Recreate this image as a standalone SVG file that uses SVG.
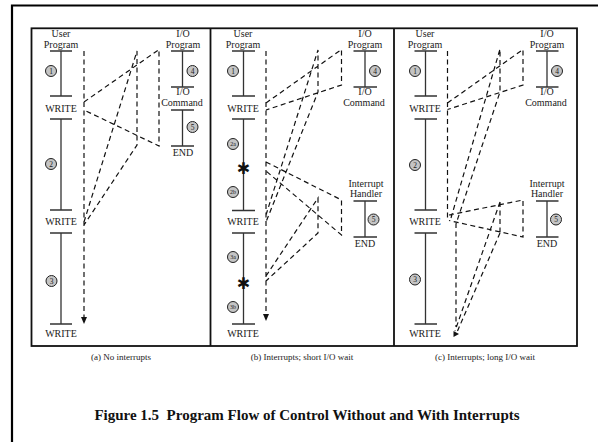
<svg xmlns="http://www.w3.org/2000/svg" width="598" height="442" viewBox="0 0 598 442">
<style>
.frame{fill:none;stroke:#000;stroke-width:2.2}
.box{fill:none;stroke:#111;stroke-width:1.8}
.prog{fill:none;stroke:#333;stroke-width:1.3}
.dash{fill:none;stroke:#111;stroke-width:1.2;stroke-dasharray:5 3.5}
.head{fill:#111}
text{font-family:"Liberation Serif","Times New Roman",serif;fill:#1a1a1a}
.lbl{font-size:10px;text-anchor:middle}
.num circle{fill:#c4c4c4;stroke:#222;stroke-width:1}
.num text{font-size:7.5px;text-anchor:middle;dominant-baseline:central}
.num text.sm{font-size:6px}
.ast{font-family:"DejaVu Sans",sans-serif;font-size:16px;text-anchor:middle;dominant-baseline:central;fill:#111}
.cap{font-size:9px;text-anchor:middle}
.title{font-size:15px;font-weight:bold;text-anchor:middle;fill:#111}
</style>
<rect width="598" height="442" fill="#fff"/>
<path class="frame" d="M12,5.5H598 M12,4.5V442"/>
<rect class="box" x="31.5" y="28.3" width="545.5" height="317.7"/>
<path class="box" d="M210.5,28.3V346 M394,28.3V346"/>

<g id="a-user">
<path class="prog" d="M50,51H72 M61,51V96 M50,96H72 M50,119H72 M61,119V210 M50,210H72 M50,233H72 M61,233V324 M50,324H72"/>
<text class="lbl" x="61" y="37">User</text><text class="lbl" x="61" y="47.5">Program</text>
<text class="lbl" x="61" y="111.5">WRITE</text><text class="lbl" x="61" y="225">WRITE</text><text class="lbl" x="61" y="337">WRITE</text>
<g class="num"><circle cx="51" cy="71" r="5.5"/><text x="51" y="71">1</text></g>
<g class="num"><circle cx="51" cy="164" r="5.5"/><text x="51" y="164">2</text></g>
<g class="num"><circle cx="51.5" cy="281" r="5.5"/><text x="51.5" y="281">3</text></g>
</g>
<g id="a-io">
<path class="prog" d="M171,51H194 M182.5,51V87 M171,87H194 M171,110H194 M182.5,110V146 M171,146H194"/>
<text class="lbl" x="183" y="37">I/O</text><text class="lbl" x="183" y="47.5">Program</text>
<text class="lbl" x="183" y="95">I/O</text><text class="lbl" x="182" y="105.5">Command</text>
<text class="lbl" x="183" y="156">END</text>
<g class="num"><circle cx="192.5" cy="71" r="5.5"/><text x="192.5" y="71">4</text></g>
<g class="num"><circle cx="192.5" cy="127" r="5.5"/><text x="192.5" y="127">5</text></g>
</g>

<g id="b-user">
<path class="prog" d="M232,51H255 M243.5,51V96 M232,96H255 M232,119H255 M243.5,119V210.5 M232,210.5H255 M232,233H255 M243.5,233V324 M232,324H255"/>
<text class="lbl" x="243" y="37">User</text><text class="lbl" x="243" y="47.5">Program</text>
<text class="lbl" x="243" y="111.5">WRITE</text><text class="lbl" x="243" y="225">WRITE</text><text class="lbl" x="243" y="337">WRITE</text>
<g class="num"><circle cx="233" cy="71" r="5.5"/><text x="233" y="71">1</text></g>
<g class="num"><circle cx="233" cy="144" r="5.5"/><text class="sm" x="233" y="144">2a</text></g>
<g class="num"><circle cx="233" cy="192" r="5.5"/><text class="sm" x="233" y="192">2b</text></g>
<g class="num"><circle cx="233" cy="257" r="5.5"/><text class="sm" x="233" y="257">3a</text></g>
<g class="num"><circle cx="233" cy="307" r="5.5"/><text class="sm" x="233" y="307">3b</text></g>
<text class="ast" x="243.5" y="168">✱</text>
<text class="ast" x="243.5" y="283">✱</text>
</g>
<g id="b-io">
<path class="prog" d="M353.5,51H377 M365,51V87 M353.5,87H377"/>
<text class="lbl" x="365" y="37">I/O</text><text class="lbl" x="365" y="47.5">Program</text>
<text class="lbl" x="365" y="95">I/O</text><text class="lbl" x="364" y="105.5">Command</text>
<g class="num"><circle cx="375" cy="71" r="5.5"/><text x="375" y="71">4</text></g>
</g>
<g id="b-handler">
<path class="prog" d="M353.5,201H377 M365,201V237 M353.5,237H377"/>
<text class="lbl" x="366" y="186.5">Interrupt</text><text class="lbl" x="366" y="196.5">Handler</text>
<text class="lbl" x="365" y="247">END</text>
<g class="num"><circle cx="373.5" cy="219.5" r="5.5"/><text x="373.5" y="219.5">5</text></g>
</g>

<g id="c-user">
<path class="prog" d="M414.5,51H437 M425.5,51V96 M414.5,96H437 M414.5,119H437 M425.5,119V210 M414.5,210H437 M414.5,233H437 M425.5,233V324 M414.5,324H437"/>
<text class="lbl" x="425" y="37">User</text><text class="lbl" x="425" y="47.5">Program</text>
<text class="lbl" x="425" y="111.5">WRITE</text><text class="lbl" x="425" y="225">WRITE</text><text class="lbl" x="425" y="337">WRITE</text>
<g class="num"><circle cx="415" cy="71" r="5.5"/><text x="415" y="71">1</text></g>
<g class="num"><circle cx="415" cy="165" r="5.5"/><text x="415" y="165">2</text></g>
<g class="num"><circle cx="415" cy="279.5" r="5.5"/><text x="415" y="279.5">3</text></g>
</g>
<g id="c-io">
<path class="prog" d="M536,51H558.5 M547,51V87 M536,87H558.5"/>
<text class="lbl" x="547" y="37">I/O</text><text class="lbl" x="547" y="47.5">Program</text>
<text class="lbl" x="547" y="95">I/O</text><text class="lbl" x="546" y="105.5">Command</text>
<g class="num"><circle cx="557" cy="71" r="5.5"/><text x="557" y="71">4</text></g>
</g>
<g id="c-handler">
<path class="prog" d="M536,201H558.5 M547,201V237 M536,237H558.5"/>
<text class="lbl" x="547" y="186.5">Interrupt</text><text class="lbl" x="547" y="196.5">Handler</text>
<text class="lbl" x="547" y="247">END</text>
<g class="num"><circle cx="556" cy="219.5" r="5.5"/><text x="556" y="219.5">5</text></g>
</g>

<g id="connectors">
<path class="dash" d="M84,51V317 M84,102L159,49.5V146L84,110 M84,222L137,51V145L84,225"/>
<polygon class="head" points="81,317 87,317 84,324"/>
<path class="dash" d="M266,51V314 M266,103L341.5,49.5V85L266,110 M266,162L341.5,200V235L266,171 M266,215L318,50V92L266,222 M266,276L318,198V233L266,281"/>
<polygon class="head" points="263,314 269,314 266,321"/>
<path class="dash" d="M447.5,51V219 M447.5,103L523,49.5V85L447.5,109.5 M449,215L523,200V237L449,220.5 M451,218L500,49V92L456,224V327 M500,202V233 M500,202L455,331 M500,233L457.5,331"/>
<polygon class="head" points="453.5,331 453.5,337 459,334"/>
</g>

<text class="cap" x="121" y="360">(a) No interrupts</text>
<text class="cap" x="302" y="360">(b) Interrupts; short I/O wait</text>
<text class="cap" x="485" y="360">(c) Interrupts; long I/O wait</text>
<text class="title" x="307" y="420" xml:space="preserve">Figure 1.5  Program Flow of Control Without and With Interrupts</text>
</svg>
